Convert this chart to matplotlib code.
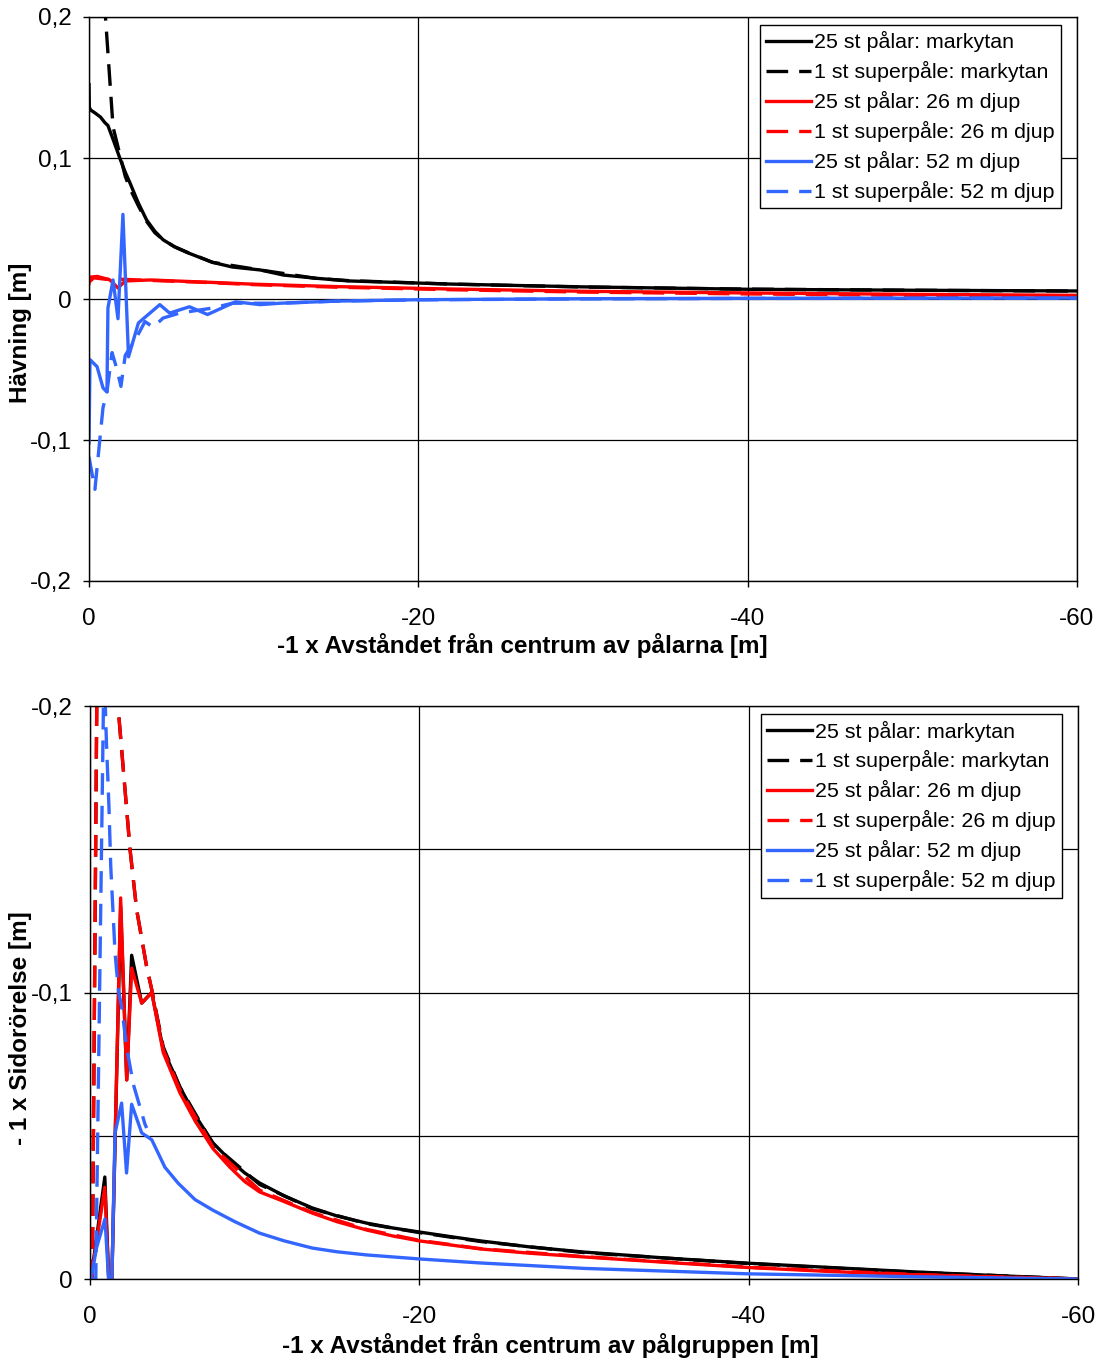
import matplotlib as mpl
mpl.use('Agg')

import numpy as np
import matplotlib.pyplot as plt

plt.rcParams['font.family'] = ['Liberation Sans', 'DejaVu Sans']

# Hävning (vertikal rörelse), x = -1 x avstånd [m]
hx_25_mark = [0, -0.02, -0.1, -0.36, -0.7, -0.97, -1.15, -1.5, -1.9, -2.2, -2.5, -3.0, -3.5, -4.0,
              -4.5, -5.2, -5.95, -7.5, -8.7, -10.4, -11.8, -13.8, -15.8, -20.0, -21.9, -30, -40, -50, -60]
hy_25_mark = [0.152, 0.136, 0.134, 0.132, 0.129, 0.125, 0.123, 0.112, 0.099, 0.090, 0.082, 0.068, 0.056, 0.048,
              0.042, 0.037, 0.033, 0.026, 0.0227, 0.0206, 0.017, 0.0147, 0.0128, 0.0113, 0.0106, 0.0086, 0.0069,
              0.0062, 0.0057]

hx_1_mark = [0, -0.3, -1.0, -1.46, -2.2, -2.5, -3.0, -3.5, -4.0, -4.5, -5.2, -6.0, -7.5, -10.4, -13.8, -15.8,
             -21.9, -30, -40, -50, -60]
hy_1_mark = [0.60, 0.40, 0.20, 0.122, 0.087, 0.078, 0.066, 0.055, 0.047, 0.042, 0.037, 0.033, 0.026, 0.0206,
             0.0146, 0.013, 0.0106, 0.0085, 0.0070, 0.0062, 0.0056]

hx_25_26 = [0, -0.05, -0.5, -1.0, -1.27, -1.76, -2.2, -3.7, -7.0, -10.0, -15.0, -21.9,
            -30, -40, -50, -60]
hy_25_26 = [0.011, 0.0155, 0.016, 0.0145, 0.0135, 0.0078, 0.0128, 0.0135, 0.012, 0.0105, 0.0088, 0.0071,
            0.0055, 0.0043, 0.0033, 0.0026]

hx_1_26 = [0, -0.3, -1.0, -2.0, -3.7, -7.0, -10.0, -15.0, -21.9, -30, -40, -50, -60]
hy_1_26 = [0.012, 0.015, 0.014, 0.014, 0.0132, 0.0118, 0.0102, 0.0084, 0.0066, 0.0049, 0.0036, 0.0026, 0.0019]

hx_25_52 = [0, -0.06, -0.49, -0.85, -1.09, -1.15, -1.46, -1.76, -2.06, -2.4, -3.0, -4.3,
            -4.9, -6.1, -7.2, -8.9, -10.4, -11.6, -15.0, -20, -30, -40, -50, -60]
hy_25_52 = [-0.102, -0.043, -0.048, -0.063, -0.066, -0.0064, 0.0135, -0.014, 0.060, -0.041, -0.017, -0.004,
            -0.010, -0.0055, -0.011, -0.002, -0.004, -0.003, -0.0015, -0.0005, 0.0002, 0.0005, 0.0006, 0.0007]

hx_1_52 = [0, -0.36, -0.85, -1.09, -1.4, -1.7, -1.94, -2.2, -2.9, -3.4, -3.9, -4.5,
           -5.5, -7.5, -8.7, -11.6, -15.0, -20, -30, -40, -50, -60]
hy_1_52 = [-0.112, -0.135, -0.077, -0.066, -0.038, -0.050, -0.062, -0.040, -0.027, -0.016, -0.020, -0.0135,
           -0.010, -0.0064, -0.003, -0.003, -0.0015, -0.0006, 0.0001, 0.0004, 0.0005, 0.0006]

# Sidorörelse (x -1), x = -1 x avstånd [m]
sx_25_mark = [0, -0.06, -0.9, -1.15, -1.32, -1.86, -2.23, -2.53, -3.14, -3.75, -4.45, -5.46, -6.4,
              -7.47, -8.5, -9.4, -10.3, -11.8, -13.5, -15.0, -16.8, -18.4, -20.0, -22.0, -23.7, -26.7,
              -30, -35, -40, -45, -50, -55, -60]
sy_25_mark = [0.004, 0.0, -0.0356, 0.002, 0.002, -0.130, -0.0695, -0.113, -0.0963, -0.100, -0.080, -0.067, -0.057,
              -0.0475, -0.0415, -0.037, -0.0335, -0.029, -0.0248, -0.022, -0.0195, -0.0178, -0.0164, -0.0147,
              -0.0133, -0.0112, -0.0094, -0.0073, -0.0055, -0.0040, -0.0025, -0.0012, 0.0]

sx_1_mark = [0, -0.14, -0.95, -1.2, -1.7, -2.43, -2.83, -3.44, -3.75, -4.45, -5.46, -7.47,
             -10.3, -13.5, -16.8, -20.0, -23.7, -30, -40, -50, -60]
sy_1_mark = [0.0, 0.0, -0.60, -0.26, -0.20, -0.15, -0.129, -0.109, -0.101, -0.081, -0.067, -0.047,
             -0.033, -0.0245, -0.0193, -0.0162, -0.0131, -0.0092, -0.0054, -0.0024, 0.0]

sx_25_26 = [0, -0.06, -0.9, -1.15, -1.32, -1.86, -2.23, -2.53, -3.14, -3.75, -4.45, -5.46, -6.4,
            -7.47, -8.5, -9.4, -10.3, -11.8, -13.5, -15.0, -16.8, -18.4, -20.0, -22.0, -23.7, -26.7,
            -30, -35, -40, -45, -50, -55, -60]
sy_25_26 = [0.004, 0.0, -0.032, 0.002, 0.002, -0.133, -0.0695, -0.1085, -0.0963, -0.100, -0.079, -0.065, -0.055,
            -0.0455, -0.039, -0.034, -0.0304, -0.027, -0.023, -0.020, -0.0171, -0.015, -0.0133, -0.0118,
            -0.0105, -0.0090, -0.0077, -0.0058, -0.0040, -0.0026, -0.0015, -0.0007, 0.0]

sx_1_26 = [0, -0.14, -0.95, -1.2, -1.7, -2.43, -2.83, -3.44, -3.75, -4.45, -5.46, -7.47,
           -10.3, -13.5, -16.8, -20.0, -23.7, -30, -40, -50, -60]
sy_1_26 = [0.0, 0.0, -0.60, -0.26, -0.20, -0.15, -0.129, -0.109, -0.101, -0.080, -0.066, -0.046,
           -0.031, -0.0232, -0.0173, -0.0135, -0.0106, -0.0078, -0.0041, -0.0016, 0.0]

sx_25_52 = [0, -0.06, -0.4, -0.91, -1.15, -1.32, -1.52, -1.92, -2.22, -2.53, -3.14, -3.75,
            -4.55, -5.36, -6.38, -7.47, -8.8, -10.3, -11.8, -13.5, -15.0, -16.8, -20, -23.7, -30, -40, -50, -60]
sy_25_52 = [0.004, 0.0, -0.011, -0.021, 0.002, 0.002, -0.051, -0.0614, -0.037, -0.061, -0.051, -0.0486,
            -0.039, -0.0334, -0.0277, -0.024, -0.020, -0.016, -0.0133, -0.0108, -0.0095, -0.0084, -0.007,
            -0.0056, -0.0037, -0.0018, -0.0008, 0.0]

sx_1_52 = [0, -0.35, -0.85, -1.0, -1.15, -1.26, -1.52, -1.72, -1.92, -2.23, -2.63, -3.34, -3.44]
sy_1_52 = [0.0, 0.0, -0.215, -0.187, -0.165, -0.144, -0.114, -0.101, -0.095, -0.0806, -0.068, -0.054, -0.0527]

series_names = ['25 st pålar: markytan', '1 st superpåle: markytan',
                '25 st pålar: 26 m djup', '1 st superpåle: 26 m djup',
                '25 st pålar: 52 m djup', '1 st superpåle: 52 m djup']
series_colors = ['black', 'black', '#FF0000', '#FF0000', '#3366FF', '#3366FF']

x_ticks = [0, -20, -40, -60]
x_ticklabels = ['0', '-20', '-40', '-60']
h_ticks = [0.2, 0.1, 0, -0.1, -0.2]
h_ticklabels = ['0,2', '0,1', '0', '-0,1', '-0,2']
s_ticks = [-0.2, -0.1, 0]
s_ticklabels = ['-0,2', '-0,1', '0']
s_minor = [-0.15, -0.05]

W, H = 1102, 1362
fig = plt.figure(figsize=(W / 100, H / 100), dpi=100)

lw = 2.4
dash = (0, (6.5, 3.3))
fs = 17.5      # axeltexter
fs_leg = 15.4  # förklaring


def ax_rect(l, t, r, b):
    return [l / W, 1 - b / H, (r - l) / W, (b - t) / H]


def style_axes(ax):
    for s in ax.spines.values():
        s.set_linewidth(1.0)
        s.set_color('black')
    ax.set_xlim(0, -60)
    ax.set_xticks(x_ticks)
    ax.set_xticklabels(x_ticklabels)
    ax.tick_params(axis='x', direction='out', length=4.5, width=1, pad=15, labelsize=fs)
    ax.tick_params(axis='y', direction='out', length=4.5, width=1, pad=8, labelsize=fs)
    ax.tick_params(which='minor', length=0)
    ax.grid(True, which='both', color='black', linewidth=0.9)
    ax.set_axisbelow(True)


def add_legend(ax, handles):
    leg = ax.legend(handles, series_names, loc='upper right', bbox_to_anchor=(0.984, 0.986),
                    fontsize=fs_leg, frameon=True, fancybox=False, framealpha=1, edgecolor='black',
                    handlelength=2.1, handletextpad=0.15, labelspacing=0.415, borderpad=0.3,
                    borderaxespad=0)
    leg.get_frame().set_linewidth(1.0)


# Övre diagram: hävning
ax1 = fig.add_axes(ax_rect(89, 17, 1077, 581))
top_data = [(hx_25_mark, hy_25_mark), (hx_1_mark, hy_1_mark), (hx_25_26, hy_25_26),
            (hx_1_26, hy_1_26), (hx_25_52, hy_25_52), (hx_1_52, hy_1_52)]
handles = []
for i, (xs, ys) in enumerate(top_data):
    ls = '-' if i % 2 == 0 else dash
    ln, = ax1.plot(xs, ys, color=series_colors[i], linewidth=lw, linestyle=ls)
    handles.append(ln)
ax1.set_ylim(-0.2, 0.2)
ax1.set_yticks(h_ticks)
ax1.set_yticklabels(h_ticklabels)
style_axes(ax1)
ax1.set_xlabel('-1 x Avståndet från centrum av pålarna [m]', fontsize=fs, fontweight='bold')
ax1.xaxis.set_label_coords(0.439, -0.092)
ax1.set_ylabel('Hävning [m]', fontsize=fs, fontweight='bold')
ax1.yaxis.set_label_coords(-0.0577, 0.44)
add_legend(ax1, handles)

# Nedre diagram: sidorörelse
ax2 = fig.add_axes(ax_rect(90, 706, 1078, 1279))
bottom_data = [(sx_25_mark, sy_25_mark), (sx_1_mark, sy_1_mark), (sx_25_26, sy_25_26),
               (sx_1_26, sy_1_26), (sx_25_52, sy_25_52), (sx_1_52, sy_1_52)]
handles = []
for i, (xs, ys) in enumerate(bottom_data):
    ls = '-' if i % 2 == 0 else dash
    ln, = ax2.plot(xs, ys, color=series_colors[i], linewidth=lw, linestyle=ls)
    handles.append(ln)
ax2.set_ylim(0, -0.2)
ax2.set_yticks(s_ticks)
ax2.set_yticklabels(s_ticklabels)
ax2.set_yticks(s_minor, minor=True)
style_axes(ax2)
ax2.set_xlabel('-1 x Avståndet från centrum av pålgruppen [m]', fontsize=fs, fontweight='bold')
ax2.xaxis.set_label_coords(0.466, -0.094)
ax2.set_ylabel('- 1 x Sidorörelse [m]', fontsize=fs, fontweight='bold')
ax2.yaxis.set_label_coords(-0.0587, 0.438)
add_legend(ax2, handles)

fig.savefig('out.png', dpi=100, facecolor='white')
